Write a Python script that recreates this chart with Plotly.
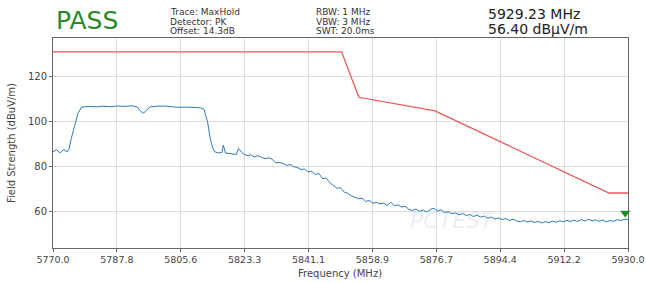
import plotly.graph_objects as go

# ---- data ----
trace_freq = [5770, 5771, 5772, 5773, 5774, 5774.5, 5775, 5776, 5777, 5778, 5780, 5782, 5784, 5786, 5788,
              5790, 5792, 5793.5, 5794.5, 5795.2, 5796, 5797, 5799, 5801, 5803, 5805, 5807, 5809, 5811, 5812,
              5813, 5813.8, 5814.5, 5815, 5816, 5817, 5817.4, 5818, 5819, 5820, 5821, 5821.6, 5822.5, 5823,
              5824, 5825, 5826, 5827, 5828, 5829, 5830, 5831, 5832, 5833, 5834, 5835, 5836, 5837, 5838, 5839,
              5840, 5841, 5842, 5843, 5844, 5845, 5846, 5847, 5848, 5849, 5850, 5851, 5852, 5853, 5854, 5855,
              5856, 5857, 5858, 5859, 5860, 5861, 5862, 5863, 5864, 5865, 5866, 5867, 5868, 5869, 5870, 5871,
              5872, 5873, 5874, 5875, 5876, 5877, 5878, 5879, 5880, 5881, 5882, 5883, 5884, 5885, 5886, 5887,
              5888, 5889, 5890, 5891, 5892, 5893, 5894, 5895, 5896, 5897, 5898, 5899, 5900, 5901, 5902, 5903,
              5904, 5905, 5906, 5907, 5908, 5909, 5910, 5911, 5912, 5913, 5914, 5915, 5916, 5917, 5918, 5919,
              5920, 5921, 5922, 5923, 5924, 5925, 5926, 5927, 5928, 5929.23, 5930]
trace_level = [86.5, 87.5, 86.0, 87.5, 86.5, 88.0, 92.0, 98.0, 104.0, 106.5, 106.8, 106.6, 106.9, 106.7, 107.0,
               106.8, 107.1, 106.5, 104.5, 103.8, 105.0, 106.6, 106.9, 107.0, 106.7, 106.4, 106.5, 106.3, 106.2, 105.5,
               100.0, 92.0, 88.0, 86.5, 86.0, 86.2, 89.5, 86.0, 85.8, 85.5, 85.3, 88.0, 86.5, 85.5,
               84.8, 85.2, 84.2, 84.8, 84.0, 83.5, 83.8, 83.2, 81.5, 81.8, 81.3, 80.5, 80.8, 79.8, 79.5, 78.6,
               78.8, 77.5, 77.8, 76.3, 76.8, 74.5, 74.8, 72.8, 71.5, 70.2, 70.5, 68.5, 68.0, 66.8, 66.2, 65.5,
               65.8, 64.3, 64.8, 63.5, 63.9, 63.2, 63.6, 62.5, 64.0, 62.3, 62.8, 61.8, 62.2, 60.8, 60.3, 60.9,
               59.9, 60.5, 59.6, 60.8, 61.2, 60.0, 60.6, 59.3, 59.8, 58.8, 59.2, 58.3, 58.9, 58.0, 58.5, 57.6,
               58.2, 57.3, 57.8, 56.8, 57.3, 56.4, 57.0, 56.2, 56.7, 55.8, 56.4, 55.6, 55.2, 55.8, 55.1, 55.6,
               54.9, 55.4, 54.7, 55.3, 54.8, 55.5, 55.0, 55.7, 55.2, 55.9, 55.3, 56.0, 55.4, 56.2, 55.5, 56.4,
               55.6, 56.1, 55.4, 56.0, 55.2, 55.8, 55.4, 56.2, 55.8, 56.4, 56.1]

limit_freq = [5770, 5850.3, 5855.1, 5876.3, 5924.7, 5930]
limit_level = [131.2, 131.2, 110.9, 104.8, 68.1, 68.1]

marker_freq = [5929.23]
marker_level = [56.40]

tick_vals = [5770.0, 5787.78, 5805.56, 5823.33, 5841.11, 5858.89, 5876.67, 5894.44, 5912.22, 5930.0]
tick_text = ["5770.0", "5787.8", "5805.6", "5823.3", "5841.1", "5858.9", "5876.7", "5894.4", "5912.2", "5930.0"]
y_ticks = [60, 80, 100, 120]

# ---- layout helpers ----
W, H = 646, 283
L, R, T, B = 53, 628, 38, 248

def px(x):
    return (x - L) / (R - L)

def py(y):
    return (B - y) / (B - T)

FONT = "DejaVu Sans"
TXT = "#444444"

fig = go.Figure()
fig.add_trace(go.Scatter(x=limit_freq, y=limit_level, mode="lines",
                         line=dict(color="#e8595a", width=1.3), hoverinfo="skip"))
fig.add_trace(go.Scatter(x=trace_freq, y=trace_level, mode="lines",
                         line=dict(color="#2a7ab8", width=1), hoverinfo="skip"))
fig.add_trace(go.Scatter(x=marker_freq, y=[v + 2.8 for v in marker_level], mode="markers",
                         marker=dict(symbol="triangle-down", color="#1e8c1e", size=9),
                         hoverinfo="skip", cliponaxis=False))

axis_common = dict(showline=True, linecolor="#666666", linewidth=1, mirror=True,
                   showgrid=True, gridcolor="#dddddd", gridwidth=1, zeroline=False,
                   ticks="outside", ticklen=3, tickcolor="#666666", automargin=False)

fig.update_layout(
    width=W, height=H,
    margin=dict(l=L, r=W - R, t=T, b=H - B),
    paper_bgcolor="white", plot_bgcolor="white",
    showlegend=False,
    xaxis=dict(range=[5770, 5930], tickvals=tick_vals, ticktext=tick_text,
               tickfont=dict(family=FONT, size=9.5, color=TXT), **axis_common),
    yaxis=dict(range=[43.5, 137.4], tickvals=y_ticks,
               tickfont=dict(family=FONT, size=10, color=TXT), **axis_common),
)

anns = [
    dict(x=px(54), y=py(20), text="PASS", xanchor="left", yanchor="middle",
         font=dict(family=FONT, size=25, color="#2a8a2a")),
    dict(x=px(168), y=py(12), text="Trace: MaxHold", xanchor="left", yanchor="middle",
         font=dict(family=FONT, size=9, color="#333333")),
    dict(x=px(168), y=py(21.5), text="Detector: PK", xanchor="left", yanchor="middle",
         font=dict(family=FONT, size=9, color="#333333")),
    dict(x=px(168), y=py(31), text="Offset: 14.3dB", xanchor="left", yanchor="middle",
         font=dict(family=FONT, size=9, color="#333333")),
    dict(x=px(314), y=py(12), text="RBW: 1 MHz", xanchor="left", yanchor="middle",
         font=dict(family=FONT, size=9, color="#333333")),
    dict(x=px(314), y=py(21.5), text="VBW: 3 MHz", xanchor="left", yanchor="middle",
         font=dict(family=FONT, size=9, color="#333333")),
    dict(x=px(314), y=py(31), text="SWT: 20.0ms", xanchor="left", yanchor="middle",
         font=dict(family=FONT, size=9, color="#333333")),
    dict(x=px(486), y=py(14), text="5929.23 MHz", xanchor="left", yanchor="middle",
         font=dict(family=FONT, size=14, color="#222222")),
    dict(x=px(486), y=py(29), text="56.40 dBµV/m", xanchor="left", yanchor="middle",
         font=dict(family=FONT, size=14, color="#222222")),
    dict(x=px(340), y=py(273), text="Frequency (MHz)", xanchor="center", yanchor="middle",
         font=dict(family=FONT, size=10, color=TXT)),
    dict(x=px(11), y=py(143), text="Field Strength (dBuV/m)", xanchor="center", yanchor="middle",
         textangle=-90, font=dict(family=FONT, size=10, color=TXT)),
    dict(x=px(452), y=py(220), text="<i>PCTEST</i>", xanchor="center", yanchor="middle",
         font=dict(family=FONT, size=22, color="rgba(150,175,215,0.22)")),
]
for a in anns:
    a.update(xref="paper", yref="paper", showarrow=False)
fig.update_layout(annotations=anns)

fig.write_html("out.html", config={"displayModeBar": False},
               post_script="document.body.style.margin='0';")
